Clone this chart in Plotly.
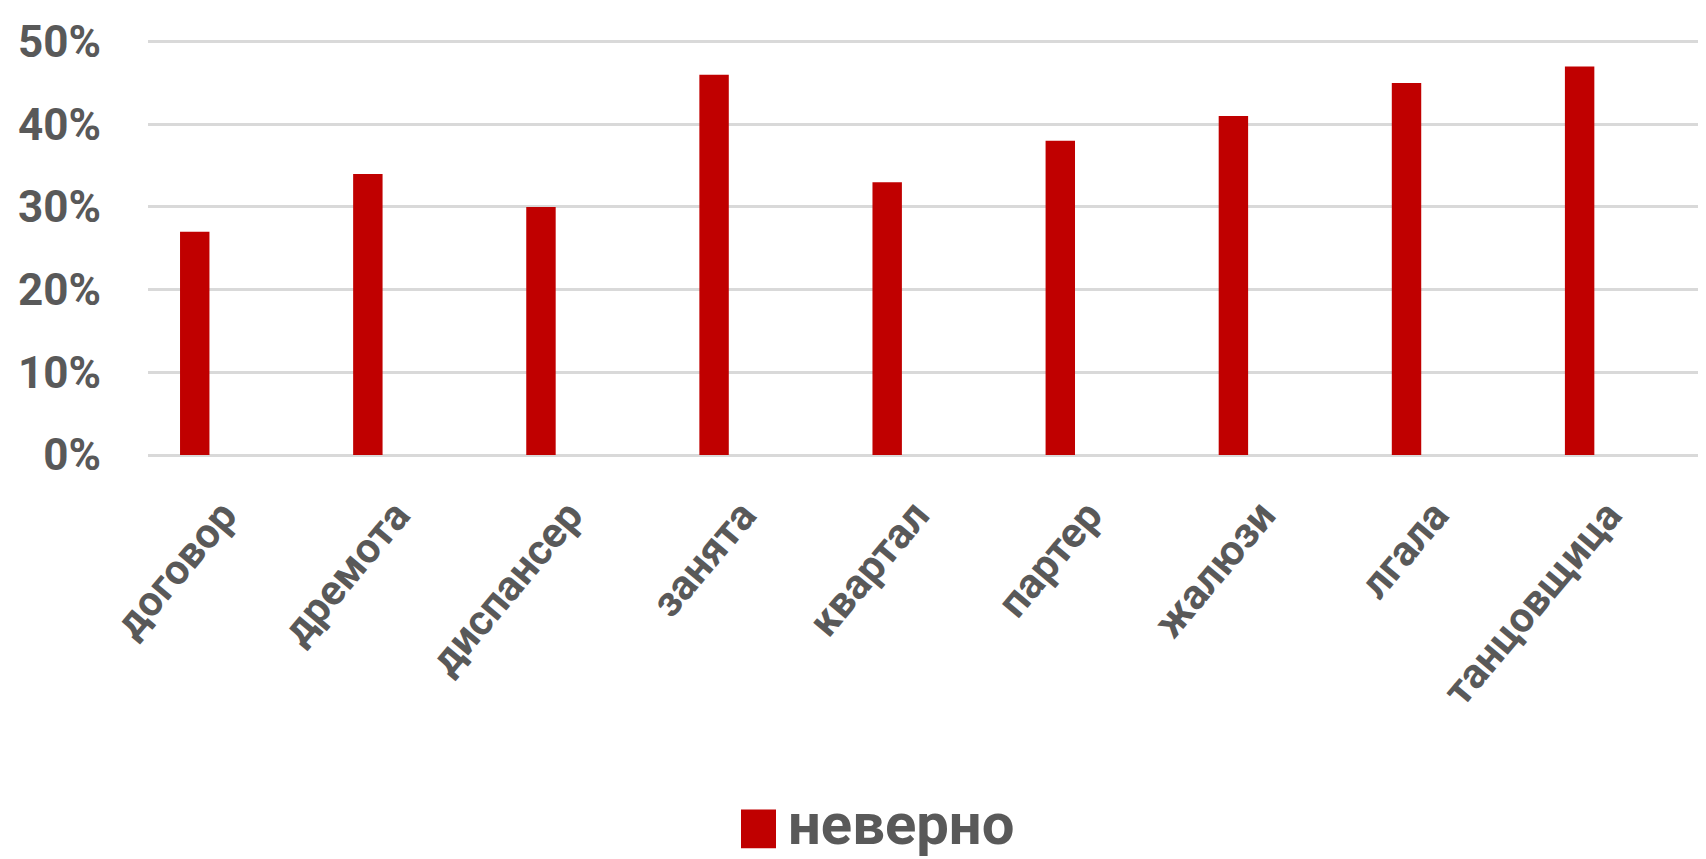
import plotly.graph_objects as go

categories = ["договор", "дремота", "диспансер", "занята", "квартал",
              "партер", "жалюзи", "лгала", "танцовщица"]
values = [0.27, 0.34, 0.30, 0.46, 0.33, 0.38, 0.41, 0.45, 0.47]
series_name = "неверно"
y_ticks = [0, 0.1, 0.2, 0.3, 0.4, 0.5]

BAR_COLOR = "#c00000"
TEXT_COLOR = "#595959"
GRID_COLOR = "#d9d9d9"
FONT = "Roboto, Open Sans, sans-serif"

W, H = 1706, 859
ML, MR, MT, MB = 140, 8, 29, 412
PW = W - ML - MR
PH = H - MT - MB


def px_x(px):
    return (px - ML) / PW


def px_y(py):
    return (H - MB - py) / PH


fig = go.Figure()
fig.add_trace(go.Bar(
    x=categories, y=values, name=series_name,
    marker=dict(color=BAR_COLOR, line=dict(width=0)),
    width=0.17, showlegend=False,
))

fig.update_layout(
    width=W, height=H,
    margin=dict(l=ML, r=MR, t=MT, b=MB),
    paper_bgcolor="white", plot_bgcolor="white",
    font=dict(family=FONT, color=TEXT_COLOR),
    xaxis=dict(
        range=[-0.27, 8.73],
        tickangle=-50,
        tickfont=dict(family=FONT, size=42, color=TEXT_COLOR, weight="bold"),
        showgrid=False, showline=False, ticks="",
        ticklabelstandoff=26, ticklabelshift=28,
    ),
    yaxis=dict(
        range=[0, 0.502], tickvals=y_ticks, tickformat=".0%",
        tickfont=dict(family=FONT, size=44, color=TEXT_COLOR, weight="bold"),
        showgrid=True, gridcolor=GRID_COLOR, gridwidth=3,
        zeroline=True, zerolinecolor=GRID_COLOR, zerolinewidth=3,
        showline=False, ticks="", ticklabelstandoff=46,
    ),
    shapes=[dict(
        type="rect", xref="paper", yref="paper",
        x0=px_x(733), x1=px_x(768), y0=px_y(804), y1=px_y(843),
        fillcolor=BAR_COLOR, line=dict(width=0),
    )],
    annotations=[dict(
        xref="paper", yref="paper", x=px_x(778), y=px_y(819),
        xanchor="left", yanchor="middle", showarrow=False,
        text=f"<b>{series_name}</b>",
        font=dict(family=FONT, size=58, color=TEXT_COLOR),
    )],
)

fig.write_html("out.html")
